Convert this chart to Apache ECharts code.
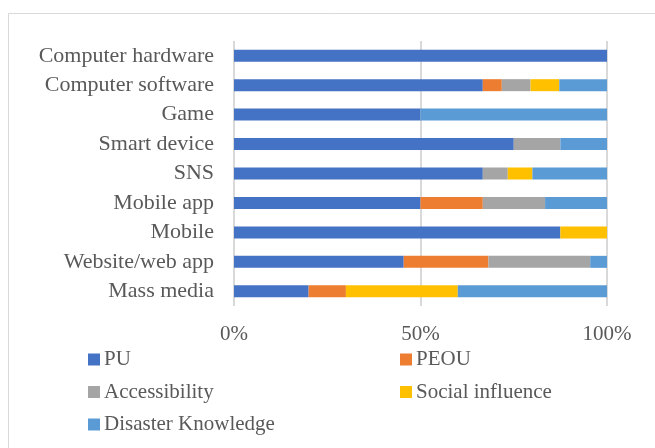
<!DOCTYPE html>
<html>
<head>
<meta charset="utf-8">
<script src="https://cdn.jsdelivr.net/npm/echarts@6/dist/echarts.min.js"></script>
<style>
  html, body { margin: 0; padding: 0; background: #fff; }
  #chart { width: 655px; height: 448px; }
</style>
</head>
<body>
<div id="chart"></div>
<script>
const categories = ['Computer hardware', 'Computer software', 'Game', 'Smart device', 'SNS', 'Mobile app', 'Mobile', 'Website/web app', 'Mass media'];
const pu = [100, 66.7, 50, 75, 66.7, 50, 87.5, 45.5, 20];
const peou = [0, 5.1, 0, 0, 0, 16.7, 0, 22.7, 10];
const accessibility = [0, 7.7, 0, 12.5, 6.7, 16.7, 0, 27.3, 0];
const socialInfluence = [0, 7.7, 0, 0, 6.6, 0, 12.5, 0, 30];
const disasterKnowledge = [0, 12.8, 50, 12.5, 20, 16.6, 0, 4.5, 40];
const xTicks = [0, 50, 100];

const font = 'Liberation Serif';
const textColor = '#595959';

const chart = echarts.init(document.getElementById('chart'));

const bar = (name, data, color) => ({
  name: name,
  type: 'bar',
  stack: 'total',
  data: data,
  barWidth: 12,
  itemStyle: { color: color },
  emphasis: { disabled: true }
});

const legendBase = {
  orient: 'vertical',
  top: 344,
  itemWidth: 12,
  itemHeight: 12,
  itemGap: 11.5,
  icon: 'rect',
  textStyle: { fontFamily: font, fontSize: 21, color: textColor, padding: [0, 0, 0, -1] }
};

chart.setOption({
  animation: false,
  graphic: [{
    type: 'rect',
    shape: { x: 8.5, y: 13.5, width: 700, height: 500 },
    style: { fill: 'none', stroke: '#d9d9d9', lineWidth: 1 },
    silent: true
  }],
  grid: { left: 234, right: 48, top: 41, bottom: 142 },
  legend: [
    Object.assign({}, legendBase, { left: 83, data: ['PU', 'Accessibility', 'Disaster Knowledge'] }),
    Object.assign({}, legendBase, { left: 395, data: ['PEOU', 'Social influence'] })
  ],
  xAxis: {
    type: 'value',
    min: xTicks[0],
    max: xTicks[xTicks.length - 1],
    interval: xTicks[1] - xTicks[0],
    axisLine: { show: false },
    axisTick: { show: false },
    axisLabel: { formatter: '{value}%', fontFamily: font, fontSize: 21, color: textColor, margin: 18 },
    splitLine: { lineStyle: { color: '#d9d9d9', width: 2 } }
  },
  yAxis: {
    type: 'category',
    inverse: true,
    data: categories,
    axisLine: { show: false },
    axisTick: { show: false },
    axisLabel: { fontFamily: font, fontSize: 22, color: textColor, margin: 20 }
  },
  series: [
    bar('PU', pu, '#4472C4'),
    bar('PEOU', peou, '#ED7D31'),
    bar('Accessibility', accessibility, '#A5A5A5'),
    bar('Social influence', socialInfluence, '#FFC000'),
    bar('Disaster Knowledge', disasterKnowledge, '#5B9BD5')
  ]
});
</script>
</body>
</html>
